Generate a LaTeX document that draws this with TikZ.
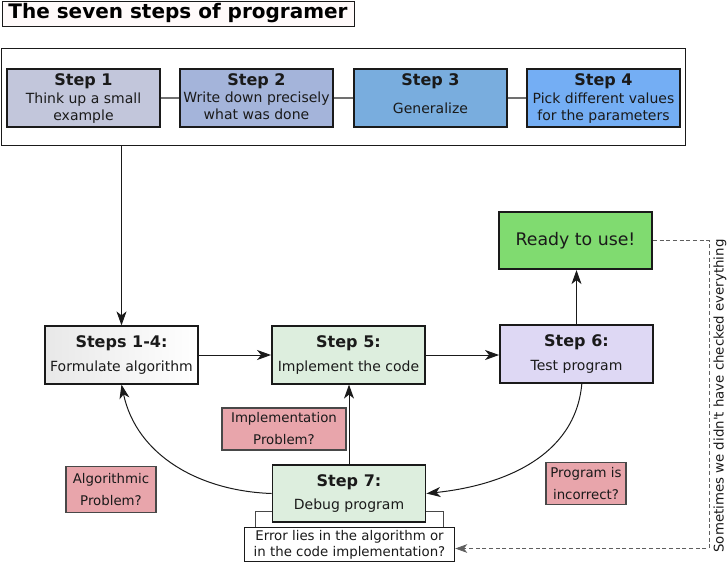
\documentclass[tikz,border=0pt]{standalone}
\usepackage{fontspec}
\setmainfont{DejaVu Sans}
\usetikzlibrary{arrows.meta,positioning,calc}
\definecolor{ink}{HTML}{1A1A1A}
\definecolor{stepA}{HTML}{C2C6DB}
\definecolor{stepB}{HTML}{A4B4DA}
\definecolor{stepC}{HTML}{79ADDE}
\definecolor{stepD}{HTML}{74AEF4}
\definecolor{mint}{HTML}{DDEEDE}
\definecolor{lilac}{HTML}{DED8F4}
\definecolor{readygreen}{HTML}{80DB70}
\definecolor{issue}{HTML}{E8A5AB}
\definecolor{linkgrey}{HTML}{707070}
\newcommand{\phasetitle}[1]{{\fontsize{12}{14}\selectfont\bfseries #1}}
\tikzset{
  title_box/.style={draw=ink,line width=0.7pt,fill=red!2,minimum width=264pt,minimum height=18.75pt,
    inner sep=0pt,font=\fontsize{15}{18}\selectfont\bfseries,text=black},
  frame_box/.style={draw=ink,line width=0.6pt,minimum width=513pt,minimum height=72.75pt,inner sep=0pt},
  step_box/.style={draw=ink,line width=1.2pt,minimum width=114.75pt,minimum height=43.5pt,inner sep=0pt},
  step_title/.style={font=\fontsize{12}{14}\selectfont\bfseries,text=ink,inner sep=0pt},
  step_desc/.style={font=\fontsize{10.5}{12.5}\selectfont,text=ink,align=center,inner sep=0pt},
  phase_box/.style={draw=ink,line width=1.4pt,minimum width=114.75pt,minimum height=43pt,
    align=center,text=ink,font=\fontsize{10.5}{12.5}\selectfont},
  issue_box/.style={draw=ink!80,line width=0.8pt,fill=issue,align=center,text=ink,
    font=\fontsize{10}{16.5}\selectfont,inner sep=0pt},
  note_box/.style={draw=ink,line width=0.6pt,fill=white,align=center,text=ink,
    font=\fontsize{10}{12}\selectfont,minimum width=158pt,minimum height=26pt,inner sep=0pt},
  link_line/.style={draw=linkgrey,line width=1.5pt},
  bracket_line/.style={draw=ink!80,line width=0.6pt},
  arr/.style={-{Stealth[length=10.5pt,width=7.5pt,inset=3pt]},draw=ink,line width=0.75pt},
  arr_dash/.style={-{Stealth[length=9pt,width=6.5pt,inset=2.5pt]},draw=ink!70,densely dashed,line width=0.6pt},
}

\begin{document}
\begin{tikzpicture}[x=0.75pt,y=-0.75pt]
    \useasboundingbox (0,0) rectangle (728,565);

    % heading and the first four steps
    \node[title_box] (title) at (178,13.5) {The seven steps of programer};
    \node[frame_box] (frame) at (343,96.5) {};

    \node[step_box,fill=stepA] (s1) at (83.5,98) {};
    \node[step_box,fill=stepB] (s2) at (256.5,98) {};
    \node[step_box,fill=stepC] (s3) at (430.5,98) {};
    \node[step_box,fill=stepD] (s4) at (603.5,98) {};

    \node[step_title] (t1) at ([yshift=-9.75pt]s1.north) {Step 1};
    \node[step_title] (t2) at ([yshift=-9.75pt]s2.north) {Step 2};
    \node[step_title] (t3) at ([yshift=-9.75pt]s3.north) {Step 3};
    \node[step_title] (t4) at ([yshift=-9.75pt]s4.north) {Step 4};

    \node[step_desc] (d1) at ([yshift=-7.5pt]s1.center) {Think up a small\\example};
    \node[step_desc] (d2) at ([yshift=-6pt]s2.center) {Write down precisely\\what was done};
    \node[step_desc] (d3) at ([yshift=-7.5pt]s3.center) {Generalize};
    \node[step_desc] (d4) at ([yshift=-7.5pt]s4.center) {Pick different values\\for the parameters};

    \draw[link_line](s1)--(s2);\draw[link_line](s2)--(s3);\draw[link_line](s3)--(s4);

    % the working loop
    \node[phase_box,left color=gray!18,right color=white] (f14) at (121.5,355) {\phasetitle{Steps 1-4:}\\[5pt]Formulate algorithm};
    \node[phase_box,fill=mint] (s5) at (348.5,355) {\phasetitle{Step 5:}\\[5pt]Implement the code};
    \node[phase_box,fill=lilac] (s6) at (576.5,354) {\phasetitle{Step 6:}\\[5pt]Test program};
    \node[phase_box,fill=readygreen,font=\fontsize{13}{15}\selectfont] (ready) at (575.5,240.5) {Ready to use!};
    \node[phase_box,fill=mint] (s7) at (349,493.5) {\phasetitle{Step 7:}\\[5pt]Debug program};
    \node[note_box] (err) at (349.5,544.5) {Error lies in the algorithm or\\in the code implementation?};

    \node[issue_box,minimum width=93pt,minimum height=31.5pt] (impl) at (284,429) {Implementation\\Problem?};
    \node[issue_box,minimum width=67.5pt,minimum height=35pt] (algo) at (111,489.5) {Algorithmic\\Problem?};
    \node[issue_box,minimum width=60pt,minimum height=32pt] (wrong) at (586,483.5) {Program is\\incorrect?};

    \coordinate (turn) at (709,240.5);
    \node[rotate=90,font=\fontsize{10}{12}\selectfont,text=ink] (note) at (720,396) {Sometimes we didn\textquotesingle t have checked everything};

    \draw[arr](f14.north |- frame.south)--(f14.north);
    \draw[arr](f14)--(s5);
    \draw[arr](s5.east)--(s5.east -| s6.west);
    \draw[arr](s6.north)--(s6.north |- ready.south);
    \draw[arr](s7.north)--(s7.north |- s5.south);
    \draw[arr](s7.west) to[out=178,in=-78] (f14.south);
    \draw[arr]([xshift=4pt]s6.south) to[out=-95,in=6] (s7.east);
    \draw[bracket_line]([yshift=9pt]s7.south west) -| ([xshift=9pt]err.north west);
    \draw[bracket_line]([yshift=9pt]s7.south east) -| ([xshift=-9pt]err.north east);
    \draw[arr_dash](ready.east)--(turn) |- ([yshift=-3pt]err.east);
  \end{tikzpicture}
\end{document}
